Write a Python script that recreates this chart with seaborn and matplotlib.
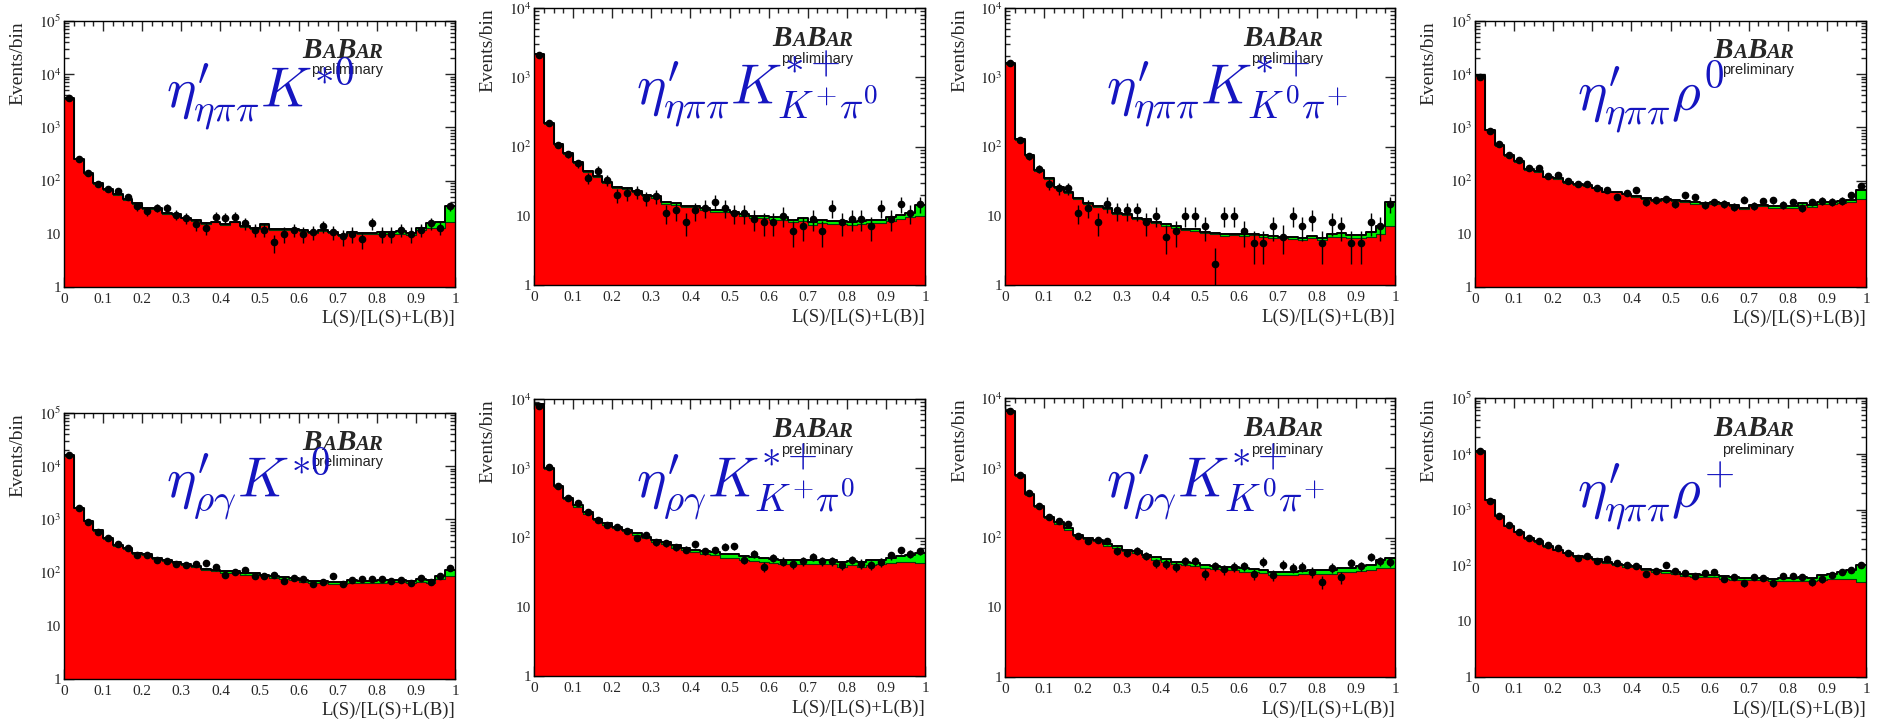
import numpy as np
import pandas as pd
import matplotlib
matplotlib.use("Agg")
import matplotlib.pyplot as plt
from matplotlib.ticker import MultipleLocator, LogLocator, FuncFormatter, NullFormatter
from matplotlib.offsetbox import TextArea, HPacker, AnnotationBbox
import seaborn as sns

# Binning of the likelihood ratio: 40 bins on [0, 1].
n_bins = 40
bin_width = 1.0 / n_bins
centers = (np.arange(n_bins) + 0.5) * bin_width

# eta'(eta pi pi) K*0
fit_1 = [3500, 260, 140, 90, 70, 55, 45, 38, 30, 30, 25, 24, 20, 18, 16, 17, 15, 17, 14, 13,
         15, 12.5, 12.5, 12.5, 12, 11, 12, 11, 9.5, 11, 10.5, 10.5, 11, 11, 11.5, 10.5, 13, 16, 17, 33]
bkg_1 = [3400, 250, 135, 87, 68, 53, 44, 37, 29, 29, 24, 23, 19.5, 17.5, 15.5, 16.5, 14.5, 16.5, 13.5, 12.5,
         14.5, 12, 12, 12, 11.5, 10.5, 11.5, 10.5, 9, 10.5, 10, 10, 10, 10, 10, 9.5, 12, 13, 13, 17]
data_1 = [3600, 260, 140, 88, 70, 65, 50, 33, 27, 31, 31, 23, 20, 15, 13, 21, 20, 21, 16, 12,
          12, 7, 10, 12, 10, 11, 14, 11, 9, 10, 8, 16, 10, 10, 12, 10, 12, 16, 13, 33]

# eta'(eta pi pi) K*+ (K+ pi0)
fit_2 = [2200, 220, 110, 80, 60, 45, 38, 31, 26, 25, 23, 20, 19, 16, 15.5, 14, 14, 13, 12, 12.3,
         11.5, 10.5, 10, 10, 9.5, 9.5, 8.7, 9.3, 8, 8.7, 8.5, 8.5, 8.2, 8.5, 8.8, 8.8, 9.5, 10.3, 11, 14.5]
bkg_2 = [2150, 212, 106, 77, 58, 43.5, 36.5, 30, 25, 24, 22, 19, 18, 15, 14.5, 13.3, 13.3, 12.3, 11.3, 11.5,
         10.8, 9.8, 9.3, 9.2, 8.8, 8.7, 8, 8.5, 7.3, 7.9, 7.7, 7.6, 7.3, 7.6, 7.8, 7.8, 8.3, 9, 9.5, 10]
data_2 = [2100, 220, 105, 78, 57, 35, 45, 33, 20, 21, 22, 18, 19, 11, 12, 8, 12, 13, 16, 13,
          11, 11, 9, 8, 8, 10, 6, 7, 9, 6, 13, 8, 9, 9, 7, 13, 9, 15, 11, 15]

# eta'(eta pi pi) K*+ (K0 pi+)
fit_3 = [1600, 130, 75, 46, 35, 26, 22, 18, 15.5, 14, 13, 11, 10.5, 9.2, 9, 8.2, 7.5, 7, 6.5, 6.4,
         5.9, 5.7, 5.4, 5.5, 5.4, 5.5, 5.3, 5.1, 5.0, 4.9, 4.8, 5.1, 4.8, 5.4, 5.6, 5.3, 5.3, 5.9, 7, 16]
bkg_3 = [1560, 126, 73, 45, 34, 25.3, 21.4, 17.5, 15, 13.6, 12.6, 10.7, 10.2, 8.9, 8.7, 7.9, 7.2, 6.7, 6.2, 6.1,
         5.6, 5.4, 5.1, 5.2, 5.1, 5.2, 5, 4.8, 4.7, 4.6, 4.5, 4.7, 4.4, 4.9, 5, 4.7, 4.7, 5, 5.5, 7]
data_3 = [1600, 125, 72, 48, 29, 25, 25, 11, 13, 8, 15, 12, 12, 12, 8, 10, 5, 6, 10, 10,
          7, 2, 10, 10, 6, 4, 4, 7, 5, 10, 7, 9, 4, 8, 7, 4, 4, 8, 7, 15]

# eta'(eta pi pi) rho0
fit_4 = [9500, 900, 460, 300, 230, 165, 150, 118, 110, 95, 85, 82, 74, 62, 62, 57, 52, 48, 44, 45,
         44, 42, 39, 38, 39, 38, 35, 31, 35, 35, 33, 33, 33, 38, 35, 39, 39, 42, 44, 68]
bkg_4 = [9300, 880, 450, 293, 225, 161, 146, 115, 107, 92, 83, 80, 72, 60, 60, 55, 50, 46, 42, 43,
         42, 40, 37, 36, 37, 36, 33, 29.5, 33, 33, 31, 30.5, 30.5, 35, 32, 36, 36, 38.5, 40, 45]
data_4 = [9000, 850, 480, 300, 240, 170, 170, 120, 125, 100, 88, 85, 72, 68, 50, 58, 66, 40, 43, 45,
          37, 53, 50, 35, 39, 37, 32, 44, 34, 41, 43, 35, 39, 31, 39, 42, 40, 42, 53, 80]

# eta'(rho gamma) K*0
fit_5 = [16000, 1650, 950, 630, 440, 330, 290, 235, 225, 185, 170, 155, 145, 135, 115, 112, 105, 105, 97, 97,
         91, 85, 83, 79, 74, 69, 69, 68, 67, 72, 70, 70, 72, 73, 73, 70, 76, 73, 87, 112]
bkg_5 = [15700, 1610, 925, 613, 428, 321, 282, 228, 218, 179, 164, 150, 140, 130, 111, 107, 100, 100, 92, 92,
         86, 80, 77, 73, 68, 63, 63, 62, 61, 65, 63, 63, 65, 66, 66, 63, 68, 65, 77, 88]
data_5 = [16000, 1650, 880, 580, 450, 340, 290, 210, 215, 175, 165, 145, 140, 145, 150, 125, 92, 103, 110, 85,
          87, 90, 70, 80, 75, 62, 67, 85, 62, 73, 77, 77, 75, 70, 72, 65, 80, 68, 85, 120]

# eta'(rho gamma) K*+ (K+ pi0)
fit_6 = [8500, 1000, 550, 370, 290, 230, 185, 160, 142, 130, 117, 103, 93, 86, 77, 71, 67, 63, 61, 57,
         57, 54, 52, 50, 49, 48, 47, 48, 48, 47, 47, 44, 46, 44, 47, 48, 51, 54, 56, 59]
bkg_6 = [8300, 970, 530, 355, 278, 220, 177, 152, 135, 123, 110, 97, 87, 80, 71, 65, 61, 57, 55, 51,
         51, 48, 46, 44, 43, 42, 41, 42, 42, 41, 41, 38, 40, 38, 40, 41, 43, 45, 45, 43]
data_6 = [8000, 1050, 550, 370, 310, 235, 180, 150, 140, 125, 100, 110, 85, 82, 73, 67, 80, 63, 65, 74,
          75, 48, 58, 38, 51, 45, 42, 46, 53, 46, 46, 40, 48, 42, 40, 44, 55, 65, 58, 63]

# eta'(rho gamma) K*+ (K0 pi+)
fit_7 = [6600, 780, 420, 280, 200, 165, 135, 110, 100, 93, 80, 75, 67, 63, 57, 52, 49, 45, 45, 43,
         40, 39, 38, 38, 36, 35, 34, 32, 32, 32, 33, 34, 34, 34, 36, 36, 39, 41, 48, 51]
bkg_7 = [6450, 755, 405, 270, 193, 158, 129, 105, 95, 88, 76, 71, 63, 59, 53, 48, 45, 41.5, 41, 39,
         36.5, 35.5, 34.5, 34.5, 32.5, 31.5, 30.5, 29, 29, 29, 29.5, 30, 30, 30, 31.5, 31.5, 33.5, 34.5, 36, 37]
data_7 = [6600, 800, 430, 280, 195, 170, 155, 105, 90, 92, 90, 65, 60, 65, 55, 43, 42, 38, 46, 46,
          30, 39, 35, 38, 39, 30, 45, 29, 41, 37, 38, 32, 23, 37, 27, 43, 39, 53, 46, 45]

# eta'(eta pi pi) rho+
fit_8 = [11000, 1500, 780, 510, 400, 310, 270, 220, 190, 170, 148, 142, 130, 116, 108, 100, 98, 87, 82, 79,
         76, 71, 69, 67, 68, 64, 61, 60, 60, 60, 58, 60, 60, 61, 60, 66, 71, 76, 82, 100]
bkg_8 = [10800, 1470, 765, 500, 392, 303, 264, 215, 185, 165, 143, 137, 125, 111, 103, 95, 93, 82, 77, 73,
         70, 65, 63, 61, 61, 58, 55, 54, 54, 54, 52, 53, 53, 53, 52, 55, 56, 56, 56, 50]
data_8 = [11000, 1450, 780, 520, 390, 310, 270, 230, 205, 170, 135, 148, 120, 130, 112, 102, 96, 70, 80, 100,
          80, 72, 64, 73, 77, 57, 62, 48, 62, 60, 48, 64, 65, 62, 50, 56, 68, 75, 82, 100]

channel_labels = [
    r"$\eta^{\prime}_{\eta\pi\pi}K^{*0}$",
    r"$\eta^{\prime}_{\eta\pi\pi}K^{*+}_{K^{+}\pi^{0}}$",
    r"$\eta^{\prime}_{\eta\pi\pi}K^{*+}_{K^{0}\pi^{+}}$",
    r"$\eta^{\prime}_{\eta\pi\pi}\rho^{0}$",
    r"$\eta^{\prime}_{\rho\gamma}K^{*0}$",
    r"$\eta^{\prime}_{\rho\gamma}K^{*+}_{K^{+}\pi^{0}}$",
    r"$\eta^{\prime}_{\rho\gamma}K^{*+}_{K^{0}\pi^{+}}$",
    r"$\eta^{\prime}_{\eta\pi\pi}\rho^{+}$",
]
y_max = [1e5, 1e4, 1e4, 1e5, 1e5, 1e4, 1e4, 1e5]

fits = [fit_1, fit_2, fit_3, fit_4, fit_5, fit_6, fit_7, fit_8]
bkgs = [bkg_1, bkg_2, bkg_3, bkg_4, bkg_5, bkg_6, bkg_7, bkg_8]
datas = [data_1, data_2, data_3, data_4, data_5, data_6, data_7, data_8]

# Axes boxes in figure pixels: (left, right, top, bottom).
W, H = 1877, 726
boxes = [
    (64, 455, 21, 287), (534, 925, 8, 285), (1005, 1395, 8, 285), (1475, 1866, 21, 287),
    (64, 455, 413, 679), (534, 925, 399, 676), (1005, 1395, 398, 677), (1475, 1866, 398, 677),
]
label_y = [0.677, 0.65, 0.65, 0.665, 0.68, 0.64, 0.64, 0.61]

sns.set_style("ticks")
plt.rcParams["font.family"] = ["Liberation Serif", "DejaVu Serif"]
plt.rcParams["mathtext.fontset"] = "stix"


def log_label(v, pos):
    """ROOT style log labels: 1, 10, 10^2 ..."""
    if v <= 0:
        return ""
    e = int(round(np.log10(v)))
    if e == 0:
        return "1"
    if e == 1:
        return "10"
    return r"$10^{%d}$" % e


def babar_logo(ax, x, y):
    """Draw the BaBar logo with smaller A's."""
    big = dict(size=21, weight="bold", style="italic", family="Liberation Serif")
    small = dict(size=15, weight="bold", style="italic", family="Liberation Serif")
    parts = [TextArea("B", textprops=big), TextArea("A", textprops=small),
             TextArea("B", textprops=big), TextArea("AR", textprops=small)]
    box = HPacker(children=parts, align="baseline", pad=0, sep=0)
    ab = AnnotationBbox(box, (x, y), xycoords="axes fraction", box_alignment=(1.0, 0.5),
                        frameon=False, pad=0)
    ax.add_artist(ab)


fig = plt.figure(figsize=(W / 100, H / 100), dpi=100)

for i in range(8):
    left, right, top, bottom = boxes[i]
    ax = fig.add_axes([left / W, 1 - bottom / H, (right - left) / W, (bottom - top) / H])
    ax.set_yscale("log")

    df = pd.DataFrame({"x": centers, "fit": fits[i], "bkg": bkgs[i]})
    hist_kws = dict(data=df, x="x", bins=n_bins, binrange=(0, 1), element="step", ax=ax)

    # Stacked fit: signal (green) on top of background (red).
    sns.histplot(weights="fit", fill=True, color="#00f000", alpha=1, linewidth=0, **hist_kws)
    sns.histplot(weights="bkg", fill=True, color="#ff0000", alpha=1, linewidth=0, **hist_kws)
    sns.histplot(weights="bkg", fill=False, color="#0a3a0a", linewidth=0.8, **hist_kws)
    sns.histplot(weights="fit", fill=False, color="black", linewidth=1.4, **hist_kws)

    # Data points with Poisson errors.
    d = np.array(datas[i], dtype=float)
    ax.errorbar(centers, d, yerr=np.sqrt(d), fmt="o", color="black", ms=4.5,
                elinewidth=1, capsize=0, zorder=5)

    ax.set_xlim(0, 1)
    ax.set_ylim(1, y_max[i])

    # Axis styling in ROOT fashion.
    ax.xaxis.set_major_locator(MultipleLocator(0.1))
    ax.xaxis.set_minor_locator(MultipleLocator(0.025))
    ax.xaxis.set_major_formatter(FuncFormatter(lambda v, p: "%g" % round(v, 2)))
    ax.yaxis.set_major_locator(LogLocator(base=10, numticks=10))
    ax.yaxis.set_minor_locator(LogLocator(base=10, subs=np.arange(2, 10), numticks=20))
    ax.yaxis.set_major_formatter(FuncFormatter(log_label))
    ax.yaxis.set_minor_formatter(NullFormatter())
    ax.tick_params(which="both", direction="in", top=True, right=True, labelsize=11, width=1)
    ax.tick_params(which="major", length=7, pad=4)
    ax.tick_params(which="minor", length=3.5)
    ax.tick_params(axis="y", which="major", pad=2)
    for sp in ax.spines.values():
        sp.set_linewidth(1)
        sp.set_color("black")

    ax.set_xlabel("L(S)/[L(S)+L(B)]", loc="right", fontsize=13.5)
    ax.xaxis.set_label_coords(1.0, -0.085)
    ax.set_ylabel("Events/bin", loc="top", fontsize=14)
    ax.yaxis.set_label_coords(-0.095, 1.0)

    # Labels.
    babar_logo(ax, 0.816, 0.89)
    ax.text(0.816, 0.815, "preliminary", transform=ax.transAxes, ha="right", va="center",
            fontsize=10.5, family="Liberation Sans", color="#222222")
    ax.text(0.26, label_y[i], channel_labels[i], transform=ax.transAxes, ha="left",
            va="baseline", fontsize=40, color="#1515c0", math_fontfamily="cm")

fig.savefig("out.png", dpi=100)
plt.close()
